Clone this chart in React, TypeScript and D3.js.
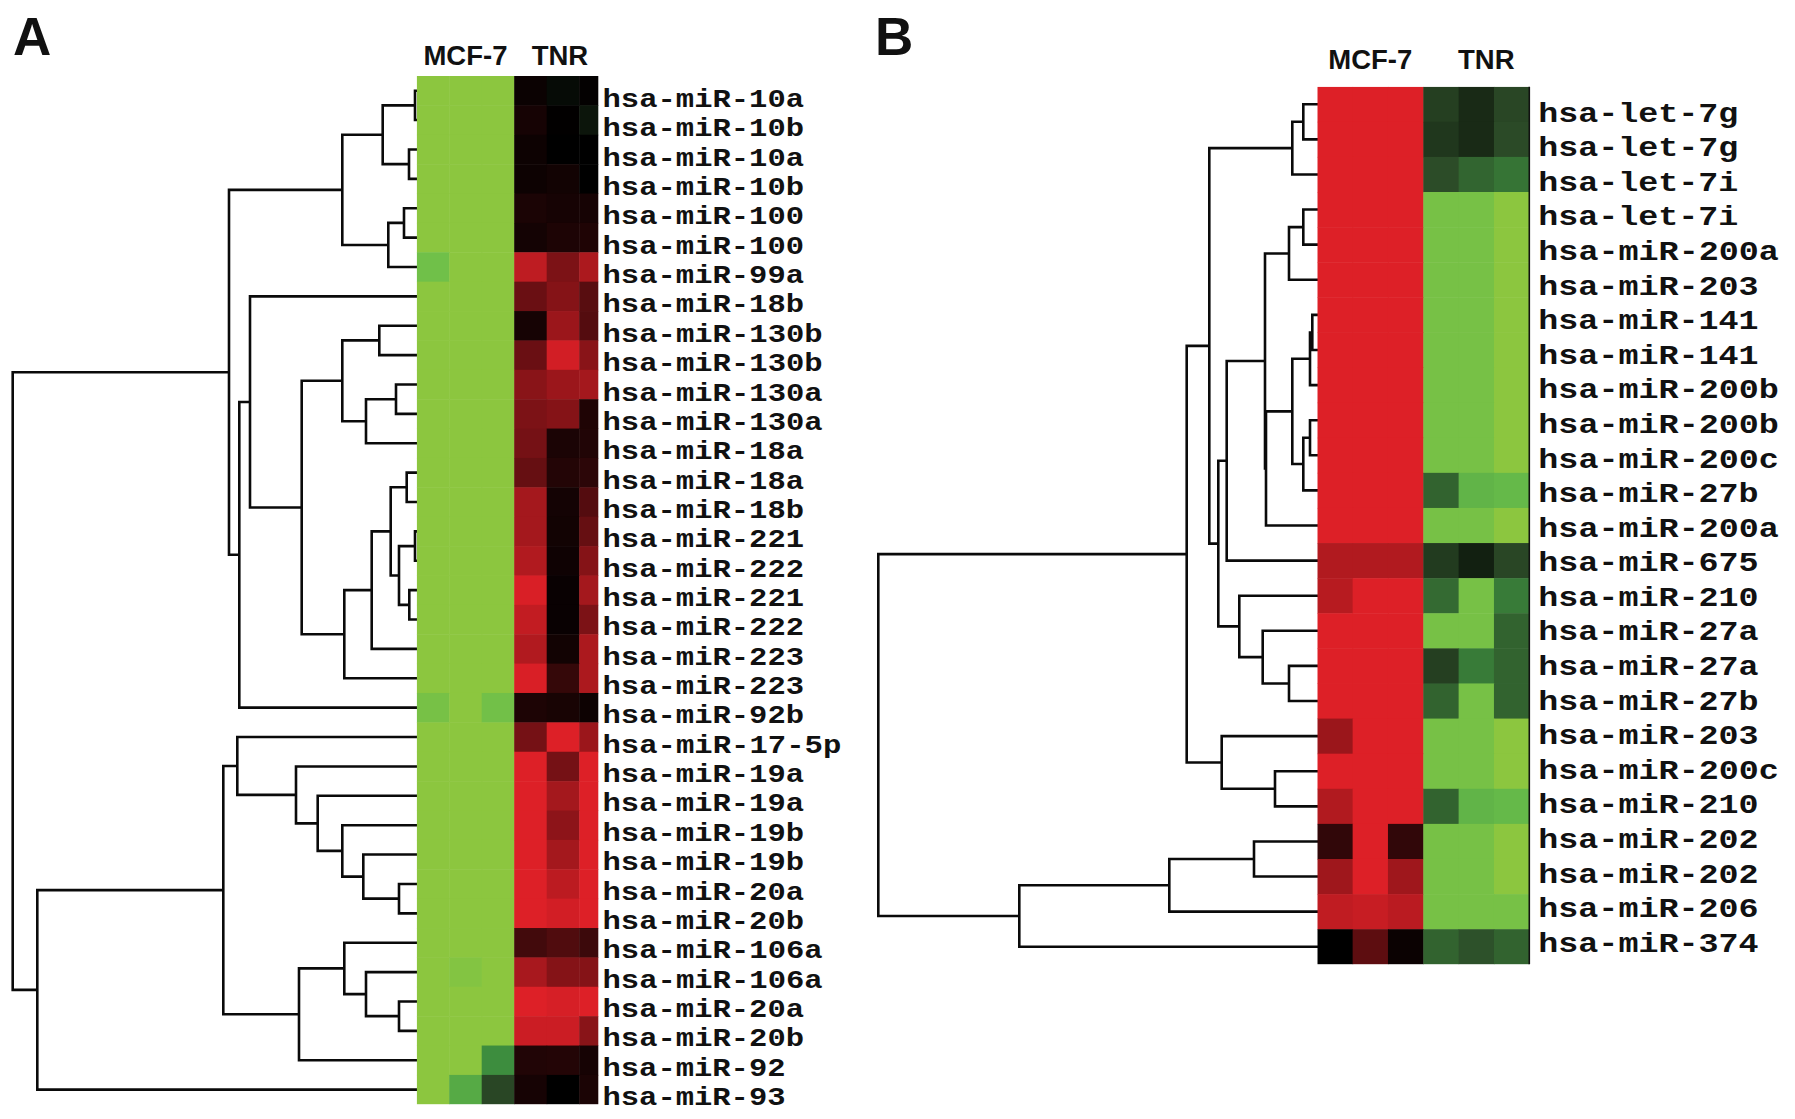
import React from 'react';
import * as d3 from 'd3';

// ---------------- DATA ----------------
const columnsA = ['MCF-7', 'TNR'];
const labelsA = [
  'hsa-miR-10a', 'hsa-miR-10b', 'hsa-miR-10a', 'hsa-miR-10b', 'hsa-miR-100', 'hsa-miR-100',
  'hsa-miR-99a', 'hsa-miR-18b', 'hsa-miR-130b', 'hsa-miR-130b', 'hsa-miR-130a', 'hsa-miR-130a',
  'hsa-miR-18a', 'hsa-miR-18a', 'hsa-miR-18b', 'hsa-miR-221', 'hsa-miR-222', 'hsa-miR-221',
  'hsa-miR-222', 'hsa-miR-223', 'hsa-miR-223', 'hsa-miR-92b', 'hsa-miR-17-5p', 'hsa-miR-19a',
  'hsa-miR-19a', 'hsa-miR-19b', 'hsa-miR-19b', 'hsa-miR-20a', 'hsa-miR-20b', 'hsa-miR-106a',
  'hsa-miR-106a', 'hsa-miR-20a', 'hsa-miR-20b', 'hsa-miR-92', 'hsa-miR-93',
];
// expression (negative = green, positive = red)
const mcfA = [
  [-1, -1, -1], [-1, -1, -1], [-1, -1, -1], [-1, -1, -1], [-1, -1, -1], [-1, -1, -1],
  [-0.87, -1, -1], [-1, -1, -1], [-1, -1, -1], [-1, -1, -1], [-1, -1, -1], [-1, -1, -1],
  [-1, -1, -1], [-1, -1, -1], [-1, -1, -1], [-1, -1, -1], [-1, -1, -1], [-1, -1, -1],
  [-1, -1, -1], [-1, -1, -1], [-1, -1, -1], [-0.9, -1, -0.88], [-1, -1, -1], [-1, -1, -1],
  [-1, -1, -1], [-1, -1, -1], [-1, -1, -1], [-1, -1, -1], [-1, -1, -1], [-1, -1, -1],
  [-1, -0.96, -1], [-1, -1, -1], [-1, -1, -1], [-1, -1, -0.62], [-1, -0.75, -0.33],
];
const tnrA = [
  [0.05, -0.05, 0.02], [0.1, 0.01, -0.1], [0.06, 0, 0], [0.06, 0.08, 0], [0.12, 0.1, 0.1], [0.09, 0.13, 0.14],
  [0.86, 0.56, 0.78], [0.48, 0.6, 0.4], [0.1, 0.7, 0.38], [0.48, 0.95, 0.62], [0.62, 0.7, 0.74], [0.56, 0.6, 0.14],
  [0.53, 0.12, 0.15], [0.46, 0.16, 0.2], [0.74, 0.09, 0.38], [0.74, 0.08, 0.46], [0.8, 0.07, 0.6], [0.98, 0.04, 0.74],
  [0.88, 0.04, 0.56], [0.8, 0.08, 0.78], [0.98, 0.24, 0.78], [0.13, 0.11, 0.06], [0.53, 1, 0.7], [1, 0.53, 1],
  [1, 0.74, 1], [1, 0.64, 1], [1, 0.74, 1], [1, 0.85, 1], [1, 0.95, 1], [0.3, 0.36, 0.27],
  [0.76, 0.6, 0.6], [1, 0.97, 1], [0.92, 0.92, 0.62], [0.15, 0.16, 0.1], [0.1, 0, 0.12],
];

const columnsB = ['MCF-7', 'TNR'];
const labelsB = [
  'hsa-let-7g', 'hsa-let-7g', 'hsa-let-7i', 'hsa-let-7i', 'hsa-miR-200a', 'hsa-miR-203',
  'hsa-miR-141', 'hsa-miR-141', 'hsa-miR-200b', 'hsa-miR-200b', 'hsa-miR-200c', 'hsa-miR-27b',
  'hsa-miR-200a', 'hsa-miR-675', 'hsa-miR-210', 'hsa-miR-27a', 'hsa-miR-27a', 'hsa-miR-27b',
  'hsa-miR-203', 'hsa-miR-200c', 'hsa-miR-210', 'hsa-miR-202', 'hsa-miR-202', 'hsa-miR-206',
  'hsa-miR-374',
];
const mcfB = [
  [1, 1, 1], [1, 1, 1], [1, 1, 1], [1, 1, 1], [1, 1, 1], [1, 1, 1],
  [1, 1, 1], [1, 1, 1], [1, 1, 1], [1, 1, 1], [1, 1, 1], [1, 1, 1],
  [1, 1, 1], [0.8, 0.8, 0.8], [0.83, 1, 1], [1, 1, 1], [1, 1, 1], [1, 1, 1],
  [0.7, 1, 1], [1, 1, 1], [0.8, 1, 1], [0.22, 1, 0.22], [0.72, 1, 0.72], [0.87, 0.9, 0.84],
  [0, 0.42, 0.05],
];
const tnrB = [
  [-0.3, -0.2, -0.33], [-0.26, -0.2, -0.35], [-0.36, -0.46, -0.52], [-0.9, -0.9, -1], [-0.9, -0.9, -1], [-0.9, -0.9, -1],
  [-0.9, -0.9, -1], [-0.9, -0.9, -1], [-0.9, -0.9, -1], [-0.9, -0.9, -1], [-0.9, -0.9, -1], [-0.45, -0.8, -0.82],
  [-0.9, -0.9, -1], [-0.28, -0.15, -0.33], [-0.48, -0.9, -0.55], [-0.9, -0.9, -0.45], [-0.3, -0.55, -0.45], [-0.45, -0.9, -0.45],
  [-0.9, -0.9, -1], [-0.9, -0.9, -1], [-0.45, -0.8, -0.82], [-0.9, -0.9, -1], [-0.9, -0.9, -1], [-0.9, -0.9, -0.9],
  [-0.45, -0.38, -0.45],
];

// Dendrograms: leaf = row index, node = [left, right, distance]
type Tree = number | [Tree, Tree, number];
const treeA: Tree = [
  [
    [[[0, 1, 1.7], [2, 3, 7.7], 34], [[4, 5, 12.7], 6, 28.4], 74.4],
    [[7, [[[8, 9, 37.4], [[10, 11, 20.7], 12, 50.7], 74.4],
      [[[[13, 14, 10], [[15, 16, 1.7], [17, 18, 7.4], 17.7], 26], 19, 45], 20, 72.4], 115], 166.7], 21, 177.4],
    187.7,
  ],
  [
    [
      [22, [23, [24, [25, [26, [27, 28, 17.7], 53.4], 74.4], 99], 120.7], 179.4],
      [[29, [30, [31, 32, 17.7], 50.7], 72.4], 33, 117.7],
      193.4,
    ],
    34,
    379.4,
  ],
  404,
];
const treeB: Tree = [
  [
    [
      [[0, 1, 14], 2, 25],
      [
        [[[[3, 4, 14], 5, 28.3], [[[[6, 7, 5], 8, 7.3], [[9, 10, 7.3], 11, 14], 25], 12, 51.3], 52.3], 13, 90.6],
        [14, [15, [16, 17, 28.3], 54.6], 78],
        99,
      ],
      108,
    ],
    [18, [19, 20, 42.3], 95.6],
    130.6,
  ],
  [[[21, 22, 63.3], 23, 148], 24, 298],
  439,
];

// ---------------- COLOURS ----------------
const greenScale = d3
  .scaleLinear<string>()
  .domain([-1, -0.85, -0.65, -0.35, 0])
  .range(['#8cc63f', '#6cbf4a', '#3f9440', '#2b4a27', '#000000'])
  .interpolate(d3.interpolateRgb)
  .clamp(true);
const redScale = d3
  .scaleLinear<string>()
  .domain([0, 1])
  .range(['#000000', '#dd2027'])
  .interpolate(d3.interpolateRgb)
  .clamp(true);
const colorOf = (v: number) => (v < 0 ? greenScale(v) : redScale(v));

// ---------------- PANEL ----------------
type PanelProps = {
  letter: string;
  letterX: number;
  labels: string[];
  mcf: number[][];
  tnr: number[][];
  columns: string[];
  tree: Tree;
  maxDist: number;
  rootX: number;
  left: number;
  colW: number;
  clipRight: number;
  top: number;
  bottom: number;
  labelX: number;
  labelTop: number;
  labelBottom: number;
  labelSize: number;
  charW: number;
  headerY: number;
  tnrHeaderShift: number;
  edgeLine: boolean;
  id: string;
};

function Panel(p: PanelProps) {
  const rows = d3.range(p.labels.length);
  const y = d3.scaleBand<number>().domain(rows).range([p.top, p.bottom]).padding(0);
  const x = d3.scaleBand<number>().domain(d3.range(6)).range([p.left, p.left + 6 * p.colW]).padding(0);
  const dist = d3.scaleLinear().domain([0, p.maxDist]).range([p.left, p.rootX]);
  const labelY = d3.scalePoint<number>().domain(rows).range([p.labelTop, p.labelBottom]);

  const path = d3.path();
  const walk = (t: Tree): { x: number; y: number } => {
    if (typeof t === 'number') return { x: dist(0), y: (y(t) as number) + y.bandwidth() / 2 };
    const l = walk(t[0]);
    const r = walk(t[1]);
    const nx = dist(t[2]);
    path.moveTo(l.x, l.y);
    path.lineTo(nx, l.y);
    path.moveTo(r.x, r.y);
    path.lineTo(nx, r.y);
    path.moveTo(nx, l.y);
    path.lineTo(nx, r.y);
    return { x: nx, y: (l.y + r.y) / 2 };
  };
  walk(p.tree);

  const cells: { key: string; x: number; y: number; v: number }[] = [];
  rows.forEach((r) => {
    const vals = [...p.mcf[r], ...p.tnr[r]];
    vals.forEach((v, c) => cells.push({ key: `${r}-${c}`, x: x(c) as number, y: y(r) as number, v }));
  });

  const mcfCenter = (x(1) as number) + p.colW / 2;
  const tnrCenter = (x(4) as number) + p.colW / 2 + p.tnrHeaderShift;

  return (
    <g>
      <text x={p.letterX} y={55} fontFamily="'Liberation Sans', Arial, sans-serif" fontWeight="bold" fontSize={53} fill="#111">
        {p.letter}
      </text>
      <text x={mcfCenter} y={p.headerY} textAnchor="middle" fontFamily="'Liberation Sans', Arial, sans-serif" fontWeight="bold" fontSize={27.5} fill="#111">
        {p.columns[0]}
      </text>
      <text x={tnrCenter} y={p.headerY} textAnchor="middle" fontFamily="'Liberation Sans', Arial, sans-serif" fontWeight="bold" fontSize={27.5} fill="#111">
        {p.columns[1]}
      </text>
      <path d={path.toString()} fill="none" stroke="#0a0a0a" strokeWidth={2.6} strokeLinecap="square" />
      <defs>
        <clipPath id={p.id}>
          <rect x={p.left} y={p.top} width={p.clipRight - p.left} height={p.bottom - p.top} />
        </clipPath>
      </defs>
      <g clipPath={`url(#${p.id})`}>
        {cells.map((c) => (
          <rect key={c.key} x={c.x} y={c.y} width={p.colW + 0.5} height={y.bandwidth() + 0.5} fill={colorOf(c.v)} />
        ))}
      </g>
      {p.edgeLine && (
        <line x1={p.clipRight} x2={p.clipRight} y1={p.top} y2={p.bottom} stroke="#111" strokeWidth={1.6} />
      )}
      {p.labels.map((lab, i) => (
        <text
          key={i}
          x={p.labelX}
          y={labelY(i)}
          fontFamily="'Liberation Mono', 'Courier New', monospace"
          fontWeight="bold"
          fontSize={p.labelSize}
          textLength={lab.length * p.charW - 3}
          lengthAdjust="spacingAndGlyphs"
          fill="#111"
        >
          {lab}
        </text>
      ))}
    </g>
  );
}

export default function App() {
  return (
    <svg
      width={1795}
      height={1119}
      viewBox="0 0 1795 1119"
      style={{ position: 'absolute', left: 0, top: 0, display: 'block', background: '#fff' }}
    >
      <rect x={0} y={0} width={1795} height={1119} fill="#fff" />
      <Panel
        id="clipA"
        letter="A"
        letterX={13}
        labels={labelsA}
        mcf={mcfA}
        tnr={tnrA}
        columns={columnsA}
        tree={treeA}
        maxDist={404}
        rootX={12.7}
        left={416.7}
        colW={32.5}
        clipRight={598.3}
        top={76}
        bottom={1104.3}
        labelX={602.5}
        labelTop={107}
        labelBottom={1105}
        labelSize={25.5}
        charW={18.6}
        headerY={65}
        tnrHeaderShift={-3}
        edgeLine={false}
      />
      <Panel
        id="clipB"
        letter="B"
        letterX={875}
        labels={labelsB}
        mcf={mcfB}
        tnr={tnrB}
        columns={columnsB}
        tree={treeB}
        maxDist={439}
        rootX={878.3}
        left={1317.3}
        colW={35.33}
        clipRight={1529.3}
        top={86.7}
        bottom={964.3}
        labelX={1538.3}
        labelTop={121.7}
        labelBottom={951.7}
        labelSize={28}
        charW={20.3}
        headerY={69}
        tnrHeaderShift={10}
        edgeLine={true}
      />
    </svg>
  );
}
